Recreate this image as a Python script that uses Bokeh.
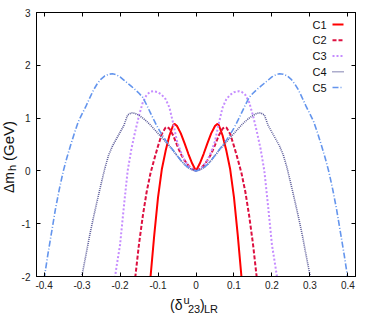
from bokeh.plotting import figure
from bokeh.models import Range1d, LinearAxis, FixedTicker, Label, Div
from bokeh.layouts import row, column
from bokeh.embed import file_html
from bokeh.resources import INLINE

# ---------------- data (right half; curves are mirrored about 0) ----------------
x_ticks = [-0.4, -0.3, -0.2, -0.1, 0, 0.1, 0.2, 0.3, 0.4]
x_tick_labels = ["-0.4", "-0.3", "-0.2", "-0.1", "0", "0.1", "0.2", "0.3", "0.4"]
y_ticks = [-2, -1, 0, 1, 2, 3]
y_tick_labels = ["-2", "-1", "0", "1", "2", "3"]

series_names = ["C1", "C2", "C3", "C4", "C5"]

c1_x = [0, 0.01, 0.02, 0.03, 0.04, 0.05, 0.056, 0.06, 0.07, 0.08, 0.09, 0.1, 0.11, 0.12]
c1_y = [0, 0.14, 0.32, 0.52, 0.71, 0.85, 0.89, 0.87, 0.67, 0.38, 0.03, -0.5, -1.22, -2.03]

c2_x = [0, 0.01, 0.02, 0.03, 0.04, 0.05, 0.06, 0.07, 0.076, 0.08, 0.09, 0.1, 0.11, 0.12,
        0.13, 0.14, 0.15, 0.16]
c2_y = [0, 0.04, 0.1, 0.2, 0.32, 0.49, 0.67, 0.8, 0.83, 0.82, 0.7, 0.47, 0.22, -0.05,
        -0.4, -0.85, -1.38, -2.02]

c3_x = [0, 0.01, 0.02, 0.03, 0.04, 0.05, 0.06, 0.07, 0.08, 0.09, 0.1, 0.113, 0.12, 0.13,
        0.14, 0.15, 0.16, 0.17, 0.18, 0.19, 0.2, 0.21, 0.215]
c3_y = [0, 0.03, 0.1, 0.2, 0.36, 0.56, 0.9, 1.2, 1.36, 1.44, 1.49, 1.51, 1.5, 1.44,
        1.3, 1.05, 0.75, 0.42, 0.0, -0.68, -1.4, -1.85, -2.1]

c4_x = [0, 0.01, 0.02, 0.03, 0.04, 0.05, 0.06, 0.07, 0.08, 0.09, 0.1, 0.11, 0.12, 0.13,
        0.14, 0.15, 0.16, 0.17, 0.18, 0.19, 0.2, 0.21, 0.22, 0.23, 0.24, 0.25, 0.26,
        0.27, 0.28, 0.29, 0.3, 0.302]
c4_y = [0, 0.02, 0.06, 0.12, 0.2, 0.29, 0.38, 0.47, 0.55, 0.63, 0.71, 0.79, 0.87, 0.94,
        1.0, 1.05, 1.09, 1.1, 1.06, 0.86, 0.73, 0.6, 0.47, 0.3, 0.05, -0.25, -0.56,
        -0.88, -1.22, -1.6, -1.97, -2.05]

c5_x = [0, 0.01, 0.02, 0.03, 0.04, 0.05, 0.06, 0.07, 0.08, 0.09, 0.1, 0.11, 0.12, 0.13,
        0.14, 0.15, 0.16, 0.17, 0.18, 0.19, 0.2, 0.21, 0.22, 0.23, 0.24, 0.25, 0.26,
        0.27, 0.28, 0.29, 0.3, 0.31, 0.32, 0.33, 0.34, 0.35, 0.36, 0.37, 0.38, 0.39, 0.4]
c5_y = [0, 0.02, 0.06, 0.12, 0.2, 0.29, 0.39, 0.48, 0.58, 0.69, 0.81, 0.95, 1.1, 1.25,
        1.39, 1.47, 1.54, 1.6, 1.66, 1.72, 1.78, 1.82, 1.84, 1.83, 1.8, 1.74, 1.65,
        1.53, 1.38, 1.22, 1.08, 0.93, 0.72, 0.49, 0.25, -0.02, -0.35, -0.72, -1.15,
        -1.58, -2.05]


def mirror(xs, ys):
    fx = [-v for v in reversed(xs[1:])] + list(xs)
    fy = list(reversed(ys[1:])) + list(ys)
    return fx, fy


series = [(c1_x, c1_y), (c2_x, c2_y), (c3_x, c3_y), (c4_x, c4_y), (c5_x, c5_y)]
colors = ["#ff0000", "#dd1040", "#c58cff", "#5a5a98", "#6495ed"]
dashes = ["solid", "4 2", "2 2", "1 1", "6 2 1 2"]
widths = [2.0, 2.0, 2.0, 1.6, 1.6]

# ---------------- layout (page pixel geometry) ----------------
PAGE_W, PAGE_H = 374, 320
YDIV_W = 18            # column holding the rotated y title
XDIV_H = 26            # row holding the x title
FRAME_L, FRAME_R, FRAME_T, FRAME_B = 36, 355, 12, 276
XMIN, XMAX, YMIN, YMAX = -0.42, 0.42, -2, 3
FONT = "Liberation Sans"
ASC = 0.8465           # baseline position inside a 1em line box (Liberation Sans)

PW = PAGE_W - YDIV_W
PH = PAGE_H - XDIV_H

p = figure(width=PW, height=PH, output_backend="svg", toolbar_location=None,
           x_range=Range1d(XMIN, XMAX), y_range=Range1d(YMIN, YMAX),
           min_border_left=FRAME_L - YDIV_W, min_border_right=PAGE_W - FRAME_R,
           min_border_top=FRAME_T, min_border_bottom=PH - FRAME_B,
           x_axis_location=None, y_axis_location=None)
p.grid.visible = False
p.outline_line_color = "black"
p.outline_line_width = 1
p.background_fill_color = "white"
p.border_fill_color = "white"


def px2x(px):  # page x -> data x
    return XMIN + (px - FRAME_L) / (FRAME_R - FRAME_L) * (XMAX - XMIN)


def px2y(py):  # page y -> data y
    return YMAX - (py - FRAME_T) / (FRAME_B - FRAME_T) * (YMAX - YMIN)


def style_axis(ax, ticks, labels, show, standoff=5):
    ax.ticker = FixedTicker(ticks=ticks)
    ax.major_tick_in = 4
    ax.major_tick_out = 0
    ax.minor_tick_line_color = None
    ax.axis_line_color = "black"
    ax.major_tick_line_color = "black"
    if show:
        ax.major_label_overrides = {t: l for t, l in zip(ticks, labels)}
        ax.major_label_text_font = FONT
        ax.major_label_text_font_size = "10px"
        ax.major_label_text_color = "#222222"
        ax.major_label_standoff = standoff
    else:
        ax.major_label_overrides = {t: "" for t in ticks}
        ax.major_label_text_font_size = "1px"
        ax.major_label_standoff = 0


bottom = LinearAxis()
style_axis(bottom, x_ticks, x_tick_labels, True, 4)
p.add_layout(bottom, "below")
left = LinearAxis()
style_axis(left, y_ticks, y_tick_labels, True, 6)
p.add_layout(left, "left")
top = LinearAxis()
style_axis(top, x_ticks, x_tick_labels, False)
p.add_layout(top, "above")
right = LinearAxis()
style_axis(right, y_ticks, y_tick_labels, False)
p.add_layout(right, "right")

for (xs, ys), c, d, w in zip(series, colors, dashes, widths):
    fx, fy = mirror(xs, ys)
    p.line(fx, fy, line_color=c, line_dash=d, line_width=w)

# ---------------- legend (label left, sample right) ----------------
leg_text_px = 326
leg_line_px = (332, 343)
leg_y0, leg_dy = 24, 15.75
for i, (name, c, d, w) in enumerate(zip(series_names, colors, dashes, widths)):
    py = leg_y0 + i * leg_dy
    p.add_layout(Label(x=px2x(leg_text_px), y=px2y(py), text=name,
                       text_font=FONT, text_font_size="11px", text_color="#111111",
                       text_align="right", text_baseline="middle"))
    p.line([px2x(leg_line_px[0]), px2x(leg_line_px[1])], [px2y(py), px2y(py)],
           line_color=c, line_dash=d, line_width=w)

# ---------------- axis titles as HTML text ----------------
# (text, page-x of left edge, page-y of baseline, font size px)
xlab_parts = [("(δ", 170, 310, 14), ("u", 183.5, 304, 11), ("23", 188, 313.5, 11),
              (")", 200, 310, 14), ("LR", 204, 313.5, 11)]
spans = []
for t, px, py, fs in xlab_parts:
    lx = px - YDIV_W
    ty = (py - PH) - ASC * fs
    spans.append(f'<span style="position:absolute;left:{lx:.1f}px;top:{ty:.1f}px;'
                 f'font-size:{fs}px;line-height:{fs}px;white-space:nowrap;">{t}</span>')
xhtml = (f'<div style="position:relative;width:{PW}px;height:{XDIV_H}px;'
         f'font-family:\'{FONT}\',Arial,sans-serif;color:#111111;">' + "".join(spans) + "</div>")
xdiv = Div(text=xhtml, width=PW, height=XDIV_H, margin=0)

# (text, page-x of baseline, page-y where the upward-running text starts, font size px)
ylab_parts = [("Δm", 13.5, 193, 14), ("h", 16.5, 171, 11), ("(GeV)", 13.5, 161, 15)]
spans = []
for t, bx, sy, fs in ylab_parts:
    u = PAGE_H - sy
    v = bx - ASC * fs
    spans.append(f'<span style="position:absolute;left:{u:.1f}px;top:{v:.1f}px;'
                 f'font-size:{fs}px;line-height:{fs}px;white-space:nowrap;">{t}</span>')
yhtml = (f'<div style="position:relative;width:{YDIV_W}px;height:{PAGE_H}px;">'
         f'<div style="position:absolute;left:0px;top:{PAGE_H}px;width:{PAGE_H}px;'
         f'height:{YDIV_W}px;transform-origin:0 0;transform:rotate(-90deg);'
         f'font-family:\'{FONT}\',Arial,sans-serif;color:#111111;">' + "".join(spans) +
         "</div></div>")
ydiv = Div(text=yhtml, width=YDIV_W, height=PAGE_H, margin=0)

page = row(ydiv, column(p, xdiv, spacing=0), spacing=0)

open("out.html", "w").write(file_html(page, INLINE))
